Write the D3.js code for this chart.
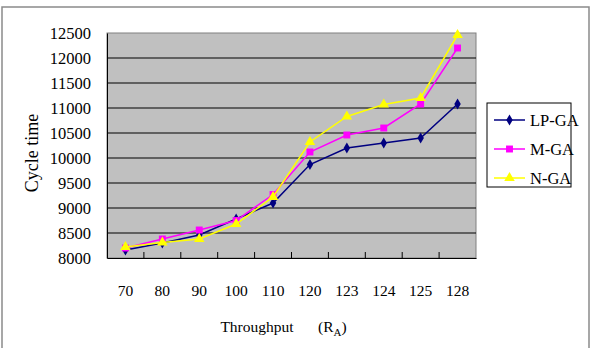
<!DOCTYPE html>
<html lang="en">
  <head>
    <meta charset="utf-8" />
    <title>Cycle time vs throughput</title>
    <script src="https://cdnjs.cloudflare.com/ajax/libs/d3/7.8.5/d3.min.js"></script>
    <style type="text/css">
      body { margin: 0; background: #fff; }
      text { font-family: "Liberation Serif", "DejaVu Serif", serif; fill: #000; }
    </style>
  </head>

  <body>
    <div id="chart"></div>
    <script>
      const categories = ['70', '80', '90', '100', '110', '120', '123', '124', '125', '128'];
      const lpGA = [8160, 8300, 8460, 8780, 9100, 9870, 10200, 10300, 10400, 11080];
      const mGA = [8200, 8380, 8560, 8750, 9270, 10120, 10460, 10600, 11080, 12200];
      const nGA = [8220, 8310, 8380, 8680, 9220, 10320, 10830, 11070, 11200, 12460];
      const yTicks = [8000, 8500, 9000, 9500, 10000, 10500, 11000, 11500, 12000, 12500];

      const series = [
        { name: 'LP-GA', values: lpGA, color: '#000080', symbol: d3.symbolDiamond, size: 36 },
        { name: 'M-GA', values: mGA, color: '#ff00ff', symbol: d3.symbolSquare, size: 48 },
        { name: 'N-GA', values: nGA, color: '#ffff00', symbol: d3.symbolTriangle, size: 48 },
      ];

      const W = 591, H = 348;
      const plot = { left: 107, right: 476, top: 33, bottom: 258 };

      const svg = d3.select('#chart')
        .append('svg')
        .attr('width', W)
        .attr('height', H);

      // outer frame
      svg.append('rect')
        .attr('x', 2).attr('y', 7)
        .attr('width', 587).attr('height', 345)
        .attr('fill', 'none')
        .attr('stroke', '#8a8a8a')
        .attr('stroke-width', 1.5);

      const x = d3.scaleBand()
        .domain(categories)
        .range([plot.left, plot.right]);

      const y = d3.scaleLinear()
        .domain([8000, 12500])
        .range([plot.bottom, plot.top]);

      svg.append('rect')
        .attr('x', plot.left).attr('y', plot.top)
        .attr('width', plot.right - plot.left)
        .attr('height', plot.bottom - plot.top)
        .attr('fill', '#c0c0c0')
        .attr('stroke', '#808080');

      // gridlines
      svg.append('g')
        .selectAll('line')
        .data(yTicks.slice(1, -1))
        .join('line')
        .attr('x1', plot.left).attr('x2', plot.right)
        .attr('y1', d => y(d)).attr('y2', d => y(d))
        .attr('stroke', '#000')
        .attr('stroke-width', 1);

      // y axis
      const yAxis = svg.append('g')
        .attr('transform', `translate(${plot.left},0)`)
        .call(d3.axisLeft(y).tickValues(yTicks).tickSize(0).tickPadding(16).tickFormat(d3.format('d')));
      yAxis.select('.domain').attr('stroke', '#000');
      yAxis.selectAll('text')
        .style('font-family', '"Liberation Serif", serif')
        .style('font-size', '16.5px');

      // x axis (inside ticks at category boundaries)
      const xAxis = svg.append('g')
        .attr('transform', `translate(0,${plot.bottom})`)
        .call(d3.axisBottom(x).tickSize(0).tickPadding(27));
      xAxis.select('.domain').attr('stroke', '#000');
      xAxis.selectAll('text')
        .style('font-family', '"Liberation Serif", serif')
        .style('font-size', '15.5px');
      xAxis.selectAll('.boundary')
        .data(categories.slice(1))
        .join('line')
        .attr('class', 'boundary')
        .attr('x1', d => x(d)).attr('x2', d => x(d))
        .attr('y1', 0).attr('y2', -6)
        .attr('stroke', '#000');

      // axis titles
      svg.append('text')
        .attr('transform', 'translate(38,153) rotate(-90)')
        .attr('text-anchor', 'middle')
        .style('font-size', '18px')
        .text('Cycle time');

      svg.append('text')
        .attr('x', 257).attr('y', 332)
        .attr('text-anchor', 'middle')
        .style('font-size', '15.5px')
        .text('Throughput');

      const ra = svg.append('text')
        .attr('x', 318).attr('y', 332)
        .style('font-size', '15.5px');
      ra.append('tspan').text('(R');
      ra.append('tspan').attr('dy', 4).style('font-size', '11px').text('A');
      ra.append('tspan').attr('dy', -4).text(')');

      const line = d3.line()
        .x((d, i) => x(categories[i]) + x.bandwidth() / 2)
        .y(d => y(d));

      series.forEach(s => {
        svg.append('path')
          .attr('d', line(s.values))
          .attr('fill', 'none')
          .attr('stroke', s.color)
          .attr('stroke-width', 1.5);
        svg.append('g')
          .selectAll('path')
          .data(s.values)
          .join('path')
          .attr('transform', (d, i) => `translate(${x(categories[i]) + x.bandwidth() / 2},${y(d)})`)
          .attr('d', d3.symbol().type(s.symbol).size(s.size))
          .attr('fill', s.color);
      });

      // legend
      const legend = svg.append('g');
      legend.append('rect')
        .attr('x', 487).attr('y', 103)
        .attr('width', 84).attr('height', 84)
        .attr('fill', '#fff')
        .attr('stroke', '#000');
      series.forEach((s, i) => {
        const ly = 120 + i * 29;
        legend.append('line')
          .attr('x1', 494).attr('x2', 525)
          .attr('y1', ly).attr('y2', ly)
          .attr('stroke', s.color)
          .attr('stroke-width', 1.5);
        legend.append('path')
          .attr('transform', `translate(509.5,${ly})`)
          .attr('d', d3.symbol().type(s.symbol).size(s.size))
          .attr('fill', s.color);
        legend.append('text')
          .attr('x', 530).attr('y', ly + 6)
          .style('font-size', '16.5px')
          .text(s.name);
      });
    </script>
  </body>
</html>
